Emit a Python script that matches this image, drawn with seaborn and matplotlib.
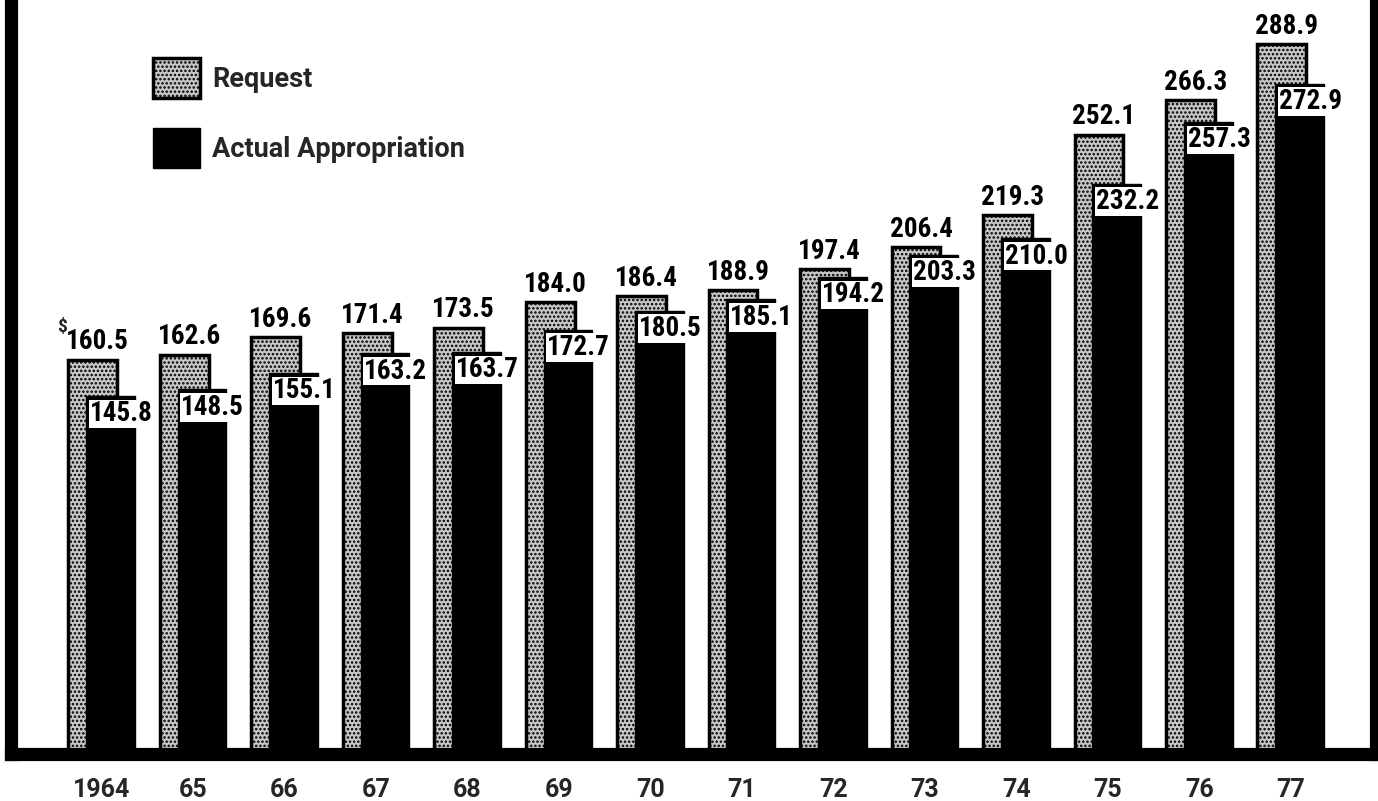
import numpy as np
import seaborn as sns
import matplotlib
matplotlib.use("Agg")
import matplotlib.pyplot as plt

# dati (milioni di dollari)
years = ["1964", "65", "66", "67", "68", "69", "70", "71", "72", "73", "74", "75", "76", "77"]
request = [160.5, 162.6, 169.6, 171.4, 173.5, 184.0, 186.4, 188.9, 197.4, 206.4, 219.3, 252.1, 266.3, 288.9]
actual = [145.8, 148.5, 155.1, 163.2, 163.7, 172.7, 180.5, 185.1, 194.2, 203.3, 210.0, 232.2, 257.3, 272.9]

sns.set_style("white")
plt.rcParams["hatch.linewidth"] = 1.2

fig = plt.figure(figsize=(13.78, 8.01), dpi=100)
ax = fig.add_axes([11 / 1378, 47 / 801, 1365 / 1378, 754 / 801])

idx = np.arange(len(years))
w = 0.535
off = 0.098

# barre sovrapposte: richiesta dietro, stanziamento davanti
sns.barplot(x=idx - off, y=request, native_scale=True, width=w, color="#c8c8c8",
            saturation=1, edgecolor="black", linewidth=2.5, hatch="....", ax=ax,
            label="Request", zorder=2)
sns.barplot(x=idx + off, y=actual, native_scale=True, width=w, color="black",
            saturation=1, edgecolor="black", linewidth=1, ax=ax,
            label="Actual Appropriation", zorder=3)

lab_font = dict(family="Roboto Condensed", weight="bold", fontsize=19.5)
for i in idx:
    txt = f"{request[i]:.1f}"
    ax.text(i - off + 0.055, request[i] + 1.8, txt, ha="center", va="bottom",
            color="black", zorder=5, **lab_font)
    ax.text(i + off - w / 2 + 0.04, actual[i] - 1.8, f"{actual[i]:.1f}",
            ha="left", va="top", color="black", zorder=5,
            bbox=dict(facecolor="white", edgecolor="none", pad=0.5), **lab_font)

# simbolo del dollaro sul primo valore
ax.text(0 - off + 0.055 - 0.33, request[0] + 9.5, "$", ha="right", va="bottom",
        family="Roboto Condensed", weight="bold", fontsize=14)

ax.set_xlim(-0.99, 13.93)
ax.set_ylim(0, 307)
ax.set_xticks(idx)
ax.set_xticklabels(years, family="Roboto", weight="bold", fontsize=18)
ax.set_yticks([])
ax.tick_params(axis="x", length=0, pad=17)
ax.set_xlabel("")
ax.set_ylabel("")

for s in ["left", "right", "bottom"]:
    ax.spines[s].set_visible(True)
    ax.spines[s].set_color("black")
    ax.spines[s].set_linewidth(9.5)
ax.spines["top"].set_visible(False)

ax.legend(loc="upper left", bbox_to_anchor=(0.104, 0.923), frameon=False,
          prop=dict(family="Roboto", weight="bold", size=19.5),
          handlelength=1.74, handleheight=1.9, labelspacing=1.1,
          handletextpad=0.45, borderpad=0, borderaxespad=0)

fig.savefig("out.png", dpi=100)
